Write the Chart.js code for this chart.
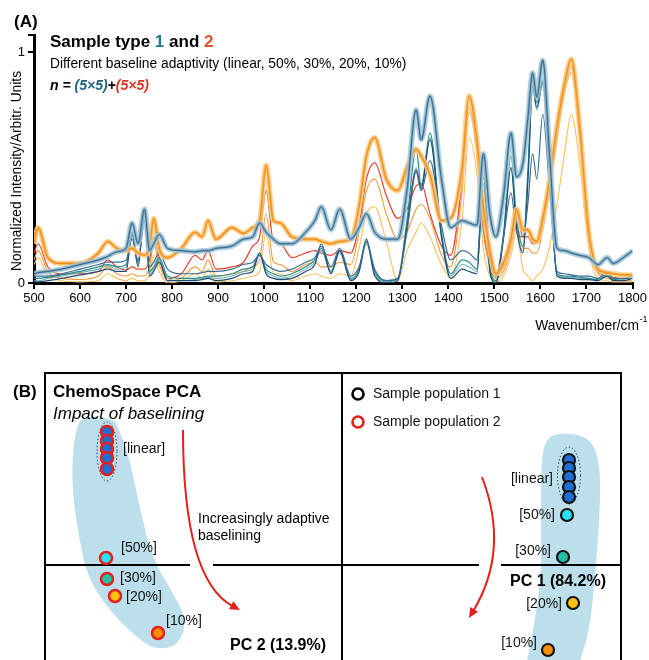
<!DOCTYPE html>
<html><head><meta charset="utf-8">
<script src="https://cdn.jsdelivr.net/npm/chart.js@4"></script>
<style>
html,body{margin:0;padding:0;background:#fff;overflow:hidden;width:649px;height:660px;}
#wa{position:absolute;left:0;top:0;width:649px;height:340px;}
#wb{position:absolute;left:0;top:340px;width:649px;height:320px;}
</style></head><body>
<div id="wa"><canvas id="ca"></canvas></div>
<div id="wb"><canvas id="cb"></canvas></div>
<script>
// ---------------- DATA: Panel A (spectra) ----------------
const wavenumbers = [500,509,530,560,600,640,660,680,700,713,726,740,751,760,772,790,820,850,865,878,895,930,955,975,990,1004,1020,1035,1060,1090,1110,1124,1145,1164,1188,1206,1222,1240,1265,1290,1310,1330,1341,1360,1385,1405,1430,1445,1462,1476,1490,1503,1520,1536,1548,1562,1573,1583,1592,1605,1620,1636,1652,1667,1685,1705,1725,1745,1758,1780,1800];
const xTickValues = [500,600,700,800,900,1000,1100,1200,1300,1400,1500,1600,1700,1800];
const yTickValues = [0,1];

// Sample type 1, linear baseline (bundle of 5 replicates)
const type1Linear = [.04,.045,.05,.06,.08, .10,.115,.135,.15,.26, .17,.32,.14,.17,.21, .15,.14,.135,.14,.14, .15,.16,.19,.20,.26, .22,.19,.17,.17,.22, .27,.33,.23,.32,.19, .24,.30,.22,.19,.19, .40,.75,.62,.81,.45, .24,.27,.26,.25,.56, .30,.20,.38,.65,.46, .52,.72,.91,.805,.965, .55,.15,.14,.13,.12, .11,.08,.11,.085,.11, .14];
const type1Base50 = [.03,.03,.03,.04,.06, .08,.09,.09,.10,.19, .10,.27,.07,.09,.13, .06,.04,.04,.045,.05, .05,.06,.08,.09,.12, .08,.06,.05,.06,.09, .11,.16,.07,.15,.03, .07,.18,.06,.01,.02, .22,.48,.40,.53,.25, .10,.14,.13,.10,.46, .12,.03,.20,.39,.22, .20,.35,.56,.45,.73, .40,.05,.04,.035,.03, .03,.02,.05,.02,.02, .02];
const type1Base30 = [.02,.02,.025,.035,.05, .07,.08,.07,.08,.21, .09,.30,.05,.07,.11, .03,.02,.02,.025,.03, .03,.04,.06,.07,.13, .06,.04,.03,.04,.07, .10,.15,.05,.14,.02, .06,.18,.05,.01,.02, .27,.58,.42,.65,.22, .04,.10,.09,.06,.43, .08,.01,.22,.55,.28, .16,.50,.88,.78,.88, .50,.04,.03,.03,.025, .02,.015,.04,.015,.02, .03];
const type1Base20 = [.01,.01,.02,.03,.045, .06,.075,.06,.07,.20, .08,.29,.04,.06,.10, .02,.01,.015,.02,.025, .02,.03,.05,.06,.12, .05,.03,.02,.03,.06, .09,.14,.045,.13,.015, .05,.17,.04,.005,.015, .25,.50,.40,.63,.20, .03,.08,.07,.05,.40, .06,.005,.20,.50,.25, .14,.47,.85,.75,.86, .48,.03,.025,.025,.02, .02,.01,.035,.01,.015, .025];
const type1Base10 = [.005,.005,.01,.02,.035, .05,.06,.05,.05,.22, .07,.31,.03,.05,.09, .01,.01,.01,.015,.02, .01,.02,.04,.05,.13, .04,.02,.015,.02,.05, .08,.17,.04,.14,.01, .05,.19,.03,0,.01, .24,.49,.41,.62,.20, .02,.06,.05,.04,.52, .05,0,.20,.50,.24, .13,.45,.85,.76,.87, .47,.03,.02,.02,.015, .015,.01,.03,.01,.01, .02];

// Sample type 2, linear baseline (bundle of 5 replicates)
const type2Linear = [.17,.24,.11,.085,.085, .13,.18,.15,.14,.15, .13,.12,.16,.28,.15, .11,.15,.22,.20,.27, .19,.24,.215,.24,.27, .51,.27,.26,.20,.19, .19,.18,.17,.18,.19, .33,.55,.63,.45,.40, .50,.58,.55,.47,.27, .28,.50,.81,.62,.33, .14,.04,.09,.19,.32, .23,.23,.19,.18,.28, .45,.68,.86,.97,.68, .22,.06,.045,.04,.035, .035];
const type2Base50 = [.13,.17,.07,.04,.04, .05,.10,.07,.056,.07, .06,.06,.10,.20,.11, .02,.04,.12,.10,.14, .06,.07,.09,.16,.20, .40,.18,.17,.11,.13, .14,.13,.12,.14,.13, .25,.45,.52,.38,.28, .32,.42,.43,.30,.16, .12,.45,.76,.58,.24, .09,.03,.07,.17,.30, .20,.20,.17,.17,.27, .43,.66,.84,.94,.66, .20,.05,.03,.025,.02, .02];
const type2Base30 = [.10,.14,.05,.02,.015, .03,.07,.04,.03,.04, .03,.03,.07,.17,.08, .01,.02,.07,.05,.10, .03,.04,.05,.07,.10, .30,.09,.08,.05,.08, .09,.07,.07,.09,.08, .22,.40,.45,.30,.19, .22,.32,.34,.28,.12, .07,.40,.74,.56,.22, .07,.02,.05,.15,.26, .15,.15,.13,.13,.23, .40,.62,.82,.91,.63, .18,.04,.02,.015,.01, .01];
const type2Base20 = [.08,.11,.03,.01,.005, .01,.04,.02,.01,.02, .01,.01,.04,.12,.05, 0,.01,.04,.02,.06, .005,.01,.02,.03,.05, .22,.04,.04,.01,.03, .04,.03,.02,.04,.03, .15,.30,.33,.18,.01, .14,.22,.26,.20,.08, .02,.28,.63,.47,.15, .03,.005,.03,.12,.22, .06,.03,.01,.03,.06, .16,.34,.56,.73,.52, .15,.02,.01,.005,.005, .005];

// ---------------- DATA: Panel B (PCA scores) ----------------
const baselineLabels = ['[linear]','[50%]','[30%]','[20%]','[10%]'];
const pc2LinearScores = [1.33,1.24,1.16,1.07,0.96];
const pc2LinearPos = [0.62,0.62,0.62,0.62,0.62];
const pc2AdaptiveScores = [0.07,-0.14,-0.31,-0.68];
const pc2AdaptivePos = [0.61,0.62,0.70,1.13];
const pc1LinearScores = [1.05,0.97,0.88,0.78,0.68];
const pc1LinearPos = [5.24,5.24,5.24,5.24,5.24];
const pc1AdaptiveScores = [0.50,0.08,-0.38,-0.85];
const pc1AdaptivePos = [5.22,5.18,5.28,5.03];
const legendLabels = ['Sample population 1','Sample population 2'];

// ---------------- STYLE ----------------
const FF = '"Liberation Sans", Arial, Helvetica, sans-serif';
const pts = arr => wavenumbers.map((w,i)=>({x:w,y:arr[i]}));
function ln(arr,color,width,order){return {data:pts(arr),borderColor:color,borderWidth:width,pointRadius:0,cubicInterpolationMode:'monotone',fill:false,order:order};}

const datasetsA = [
  ln(type2Base20,'#f7c062',1.1,20),
  ln(type2Base30,'#f39a3c',1.1,19),
  ln(type2Base50,'#e8402c',1.2,18),
  ln(type1Base20,'#6fb0ac',1.1,17),
  ln(type1Base30,'#2a8c8c',1.2,16),
  ln(type1Base10,'#1f4d74',1.2,15),
  ln(type1Base50,'#3d6c97',1.2,14),
  ln(type2Linear,'rgba(250,205,135,0.8)',5.5,10),
  ln(type2Linear,'#f7b455',2.6,9),
  ln(type2Linear,'#f08c1e',1.1,8),
  ln(type1Linear,'rgba(165,200,212,0.8)',5.5,6),
  ln(type1Linear,'#80acc2',2.6,5),
  ln(type1Linear,'#35638e',1.0,4)
];

const textA = {id:'textA', afterDraw(chart){
  const c = chart.ctx; c.save(); c.textBaseline='middle'; c.textAlign='left'; c.fillStyle='#000';
  c.font='bold 17px '+FF; c.fillText('(A)',14,22);
  let x=50; c.font='bold 17px '+FF;
  [['Sample type ','#000'],['1','#1d7b86'],[' and ','#000'],['2','#e5502a']].forEach(([t,col])=>{c.fillStyle=col;c.fillText(t,x,42);x+=c.measureText(t).width;});
  c.fillStyle='#000'; c.font='13.8px '+FF;
  c.fillText('Different baseline adaptivity (linear, 50%, 30%, 20%, 10%)',50,64);
  x=50; c.font='italic bold 14px '+FF;
  [['n = ','#000'],['(5×5)','#24627f'],['+','#000'],['(5×5)','#e8321f']].forEach(([t,col])=>{c.fillStyle=col;c.fillText(t,x,86);x+=c.measureText(t).width;});
  c.fillStyle='#000';
  c.save(); c.translate(17,171); c.rotate(-Math.PI/2); c.textAlign='center'; c.font='13.8px '+FF;
  c.fillText('Normalized Intensity/Arbitr. Units',0,0); c.restore();
  c.font='13.8px '+FF; const t='Wavenumber/cm'; const w=c.measureText(t).width;
  c.font='9px '+FF; const ws=c.measureText('-1').width;
  const x0 = 647 - w - ws;
  c.font='13.8px '+FF; c.fillText(t,x0,326);
  c.font='9px '+FF; c.fillText('-1',x0+w+0.5,320);
  c.restore();
}};

new Chart(document.getElementById('ca'),{
  type:'line',
  data:{datasets:datasetsA},
  options:{
    responsive:true, maintainAspectRatio:false, animation:false,
    layout:{autoPadding:false,padding:{left:0,right:15,top:35,bottom:0}},
    plugins:{legend:{display:false},tooltip:{enabled:false}},
    scales:{
      x:{type:'linear',min:500,max:1800,
        afterBuildTicks:s=>{s.ticks=xTickValues.map(v=>({value:v}));},
        afterFit:s=>{s.height=57;},
        ticks:{color:'#000',font:{size:13,family:FF},padding:2,maxRotation:0,autoSkip:false,callback:v=>String(v)},
        grid:{drawOnChartArea:false,color:'#000',lineWidth:2,tickLength:6},
        border:{display:true,color:'#000',width:3}},
      y:{type:'linear',min:0,max:1.074,
        afterBuildTicks:s=>{s.ticks=yTickValues.concat([1.074]).map(v=>({value:v}));},
        afterFit:s=>{s.width=34;},
        ticks:{color:'#000',font:{size:13,family:FF},padding:3,callback:v=>(v>1.05?'':String(v))},
        grid:{drawOnChartArea:false,color:'#000',lineWidth:2,tickLength:6},
        border:{display:true,color:'#000',width:3}}
    }
  },
  plugins:[textA]
});

// ---------------- Panel B ----------------
const fills = ['#1f6fd2','#25e2f7','#1fc3a2','#ffc214','#ff8c0a'];
const blobLeft = [[0.38,1.49],[0.68,1.47],[0.74,1.36],[0.85,1.05],[0.95,0.55],[1.08,0.05],[1.28,-0.28],[1.42,-0.55],[1.34,-0.80],[1.12,-0.85],[0.93,-0.74],[0.63,-0.44],[0.43,-0.13],[0.35,0.22],[0.28,0.65],[0.27,1.05],[0.31,1.37]];
const blobRight = [[5.00,1.27],[5.18,1.33],[5.47,1.27],[5.56,0.95],[5.54,0.38],[5.50,-0.12],[5.45,-0.62],[5.37,-0.90],[5.29,-1.15],[4.78,-1.15],[4.83,-0.92],[4.90,-0.55],[4.96,-0.12],[4.96,0.38],[4.96,0.98]];

function mkPts(pos,sc){return pos.map((p,i)=>({x:p,y:sc[i]}));}
const leftData = mkPts(pc2LinearPos,pc2LinearScores).concat(mkPts(pc2AdaptivePos,pc2AdaptiveScores));
const rightData = mkPts(pc1LinearPos,pc1LinearScores).concat(mkPts(pc1AdaptivePos,pc1AdaptiveScores));
const ptColors = [0,0,0,0,0,1,2,3,4].map(i=>fills[i]);

const layoutB = {divider:2.97, gaps:[[0,1.45],[1.68,4.34],[4.56,5.76]],
  arrowL:[[1.38,1.35],[1.38,-0.15],[1.95,-0.45]], arrowR:[[4.37,0.88],[4.65,0.15],[4.24,-0.53]],
  ellL:{x:0.62,y:1.135,rx:10,ry:29.5}, ellR:{x:5.24,y:0.895,rx:11.5,ry:28.5},
  labL:[[16,-2],[15,-10],[13,-1],[11,1],[8,-12]], labR:[[-16,4],[-12,0],[-12,-6],[-11,1],[-11,-7]]};

function smoothClosed(c,p){const n=p.length;const mid=(a,b)=>[(a[0]+b[0])/2,(a[1]+b[1])/2];
  let m=mid(p[n-1],p[0]); c.moveTo(m[0],m[1]);
  for(let i=0;i<n;i++){const a=p[i],b=p[(i+1)%n];const mm=mid(a,b);c.quadraticCurveTo(a[0],a[1],mm[0],mm[1]);}
  c.closePath();}

const drawB = {id:'drawB',
  beforeDatasetsDraw(chart){
    const c=chart.ctx, X=chart.scales.x, Y=chart.scales.y, ca=chart.chartArea;
    const px=p=>[X.getPixelForValue(p[0]),Y.getPixelForValue(p[1])];
    c.save();
    c.beginPath(); c.rect(ca.left,ca.top,ca.right-ca.left,ca.bottom-ca.top); c.clip();
    c.fillStyle='#bcdfeb';
    [blobLeft,blobRight].forEach(b=>{c.beginPath();smoothClosed(c,b.map(px));c.fill();});
    c.restore();
    c.save();
    c.strokeStyle='#000'; c.lineWidth=2;
    const top=Y.getPixelForValue(Y.max), bot=ca.bottom+5;
    [X.min,layoutB.divider,X.max].forEach(v=>{const x=X.getPixelForValue(v);c.beginPath();c.moveTo(x,top);c.lineTo(x,bot);c.stroke();});
    c.beginPath(); c.moveTo(X.getPixelForValue(X.min)-1,top); c.lineTo(X.getPixelForValue(X.max)+1,top); c.stroke();
    const y0=Y.getPixelForValue(0);
    layoutB.gaps.forEach(g=>{c.beginPath();c.moveTo(X.getPixelForValue(g[0]),y0);c.lineTo(X.getPixelForValue(g[1]),y0);c.stroke();});
    // arrows
    c.strokeStyle='#e3201b'; c.fillStyle='#e3201b'; c.lineWidth=2;
    [layoutB.arrowL,layoutB.arrowR].forEach(a=>{
      const p0=px(a[0]),p1=px(a[1]),p2=px(a[2]);
      const dx=p2[0]-p1[0],dy=p2[1]-p1[1],L=Math.hypot(dx,dy),ux=dx/L,uy=dy/L;
      const hl=10,hw=4.5; const bx=p2[0]-ux*hl, by=p2[1]-uy*hl;
      c.beginPath();c.moveTo(p0[0],p0[1]);c.quadraticCurveTo(p1[0],p1[1],bx+ux*2,by+uy*2);c.stroke();
      c.beginPath();c.moveTo(p2[0],p2[1]);c.lineTo(bx-uy*hw,by+ux*hw);c.lineTo(bx+uy*hw,by-ux*hw);c.closePath();c.fill();
    });
    // dotted ellipses
    c.strokeStyle='#2b3b4c'; c.lineWidth=1; c.setLineDash([1.5,2]);
    [layoutB.ellL,layoutB.ellR].forEach(e=>{c.beginPath();c.ellipse(X.getPixelForValue(e.x),Y.getPixelForValue(e.y),e.rx,e.ry,0,0,Math.PI*2);c.stroke();});
    c.restore();
  },
  afterDatasetsDraw(chart){
    const c=chart.ctx, X=chart.scales.x, Y=chart.scales.y;
    c.save(); c.textBaseline='middle'; c.fillStyle='#111';
    c.font='14px '+FF;
    const lc=[X.getPixelForValue(layoutB.ellL.x),Y.getPixelForValue(layoutB.ellL.y)];
    c.textAlign='left';
    c.fillText(baselineLabels[0],lc[0]+layoutB.labL[0][0],lc[1]+layoutB.labL[0][1]);
    for(let i=0;i<4;i++){const x=X.getPixelForValue(pc2AdaptivePos[i]),y=Y.getPixelForValue(pc2AdaptiveScores[i]);
      c.fillText(baselineLabels[i+1],x+layoutB.labL[i+1][0],y+layoutB.labL[i+1][1]);}
    const rc=[X.getPixelForValue(layoutB.ellR.x),Y.getPixelForValue(layoutB.ellR.y)];
    c.textAlign='right';
    c.fillText(baselineLabels[0],rc[0]+layoutB.labR[0][0],rc[1]+layoutB.labR[0][1]);
    for(let i=0;i<4;i++){const x=X.getPixelForValue(pc1AdaptivePos[i]),y=Y.getPixelForValue(pc1AdaptiveScores[i]);
      c.fillText(baselineLabels[i+1],x+layoutB.labR[i+1][0],y+layoutB.labR[i+1][1]);}
    c.textAlign='left'; c.fillStyle='#000';
    c.font='bold 17px '+FF; c.fillText('(B)',13,52);
    c.fillText('ChemoSpace PCA',53,52);
    c.font='italic 17px '+FF; c.fillText('Impact of baselining',53,74);
    c.font='14px '+FF; c.fillText('Increasingly adaptive',198,179); c.fillText('baselining',198,196);
    c.font='bold 16px '+FF; c.fillText('PC 2 (13.9%)',230,306);
    c.textAlign='center'; c.fillText('PC 1 (84.2%)',558,242);
    c.textAlign='left'; c.font='14px '+FF;
    [['#000',54],['#e3201b',82]].forEach(([col,y],i)=>{
      c.beginPath(); c.arc(358,y,5.5,0,Math.PI*2); c.fillStyle='#fff'; c.fill(); c.lineWidth=2.6; c.strokeStyle=col; c.stroke();
      c.fillStyle='#111'; c.fillText(legendLabels[i],373,y);});
    c.restore();
  }};

new Chart(document.getElementById('cb'),{
  type:'scatter',
  data:{datasets:[
    {data:leftData,pointRadius:6,pointBackgroundColor:ptColors,pointBorderColor:'#e3201b',pointBorderWidth:2.5,showLine:false,clip:false},
    {data:rightData,pointRadius:6,pointBackgroundColor:ptColors,pointBorderColor:'#111',pointBorderWidth:2.2,showLine:false,clip:false}
  ]},
  options:{responsive:true,maintainAspectRatio:false,animation:false,
    layout:{autoPadding:false,padding:{left:45,right:28,top:33,bottom:0}},
    plugins:{legend:{display:false},tooltip:{enabled:false}},
    scales:{x:{type:'linear',min:0,max:5.76,display:false},y:{type:'linear',min:-0.95,max:1.92,display:false}}
  },
  plugins:[drawB]
});
</script>
</body></html>
